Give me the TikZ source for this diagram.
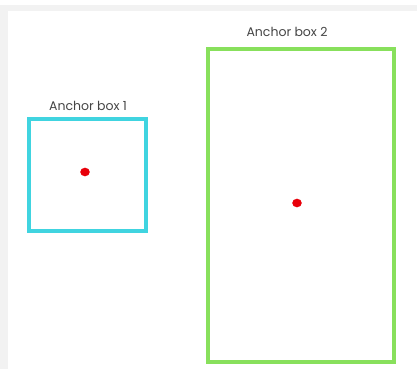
\documentclass[tikz,border=0pt]{standalone}
\usepackage{fontspec}
\setmainfont{Poppins}
\definecolor{bggray}{HTML}{F2F2F2}
\definecolor{boxcyan}{HTML}{40D4E0}
\definecolor{boxgreen}{HTML}{88E05C}
\definecolor{dotred}{HTML}{E8000A}
\definecolor{labelgray}{HTML}{454545}
\begin{document}
\begin{tikzpicture}[x=1pt,y=-1pt,
  anchorbox/.style={draw, line width=4pt, fill=none},
  boxlabel/.style={text=labelgray, font=\fontsize{12.5}{14}\selectfont, inner sep=0pt}]
  \useasboundingbox (0,0) rectangle (417,369);
  \fill[bggray] (0,0) rectangle (417,369);
  \fill[white] (0,0) rectangle (417,5);
  \fill[white] (8,11) rectangle (417,369);
  % box 1
  \draw[anchorbox, boxcyan] (29,119) rectangle (146,231);
  \node[boxlabel] (l1) at (88,106) {Anchor box 1};
  \fill[dotred] (85,172) ellipse (4.8pt and 4.3pt);
  \coordinate (d1) at (85,172);
  % box 2
  \draw[anchorbox, boxgreen] (208,49) rectangle (394,362);
  \node[boxlabel] (l2) at (287,32) {Anchor box 2};
  \fill[dotred] (297,203) ellipse (4.8pt and 4.3pt);
  \coordinate (d2) at (297,203);
\end{tikzpicture}
\end{document}
